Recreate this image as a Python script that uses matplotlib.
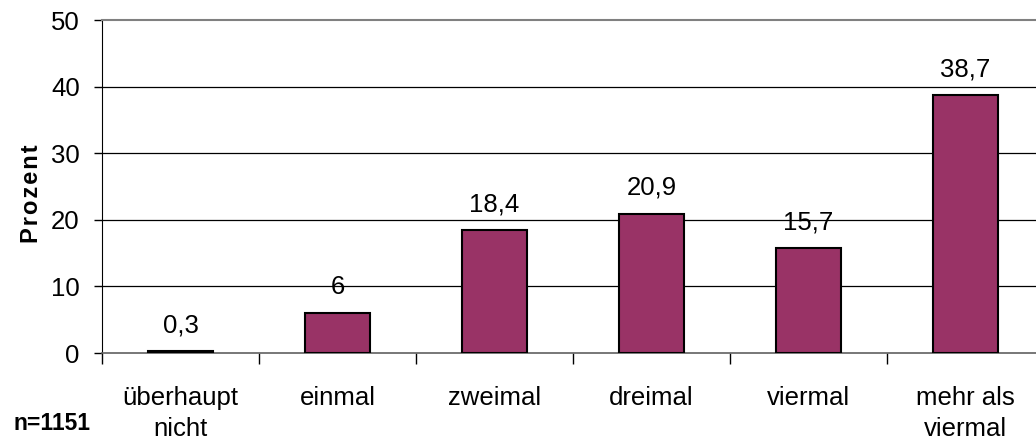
import matplotlib
matplotlib.use('Agg')
import matplotlib.pyplot as plt

# categories and values (Prozent)
categories = ['überhaupt\nnicht', 'einmal', 'zweimal', 'dreimal', 'viermal', 'mehr als\nviermal']
values = [0.3, 6, 18.4, 20.9, 15.7, 38.7]
value_labels = ['0,3', '6', '18,4', '20,9', '15,7', '38,7']
y_ticks = [0, 10, 20, 30, 40, 50]

plt.rcParams['font.family'] = ['Liberation Sans', 'DejaVu Sans']

fig = plt.figure(figsize=(10.36, 4.44), dpi=100)
# axes runs past the right edge like the original
ax = fig.add_axes([102 / 1036, (444 - 353) / 444, 942 / 1036, 333 / 444])

x = list(range(len(categories)))
bars = ax.bar(x, values, width=0.41, color='#993366', edgecolor='black', linewidth=1.5, zorder=3)

for xi, v, lab in zip(x, values, value_labels):
    ax.annotate(lab, (xi, v), xytext=(0, 10), textcoords='offset points',
                ha='center', va='bottom', fontsize=18.5)

ax.set_xlim(-0.5, 5.5)
ax.set_ylim(0, 50)
ax.set_yticks(y_ticks)
ax.set_yticklabels([str(t) for t in y_ticks], fontsize=18.5)
ax.set_xticks(x)
ax.set_xticklabels(categories, fontsize=18.5, linespacing=1.35)
ax.tick_params(axis='x', length=0, pad=24)
ax.set_xticks([i + 0.5 for i in range(-1, len(categories))], minor=True)
ax.tick_params(axis='x', which='minor', length=8, width=1, direction='out')
ax.tick_params(axis='y', length=6, width=1, direction='out', pad=10)

for t in y_ticks[1:-1]:
    ax.axhline(t, color='black', linewidth=0.9, zorder=1)

ax.spines['right'].set_visible(False)
ax.spines['top'].set_color('#808080')
ax.spines['top'].set_linewidth(1.5)
ax.spines['bottom'].set_color('#606060')
ax.spines['bottom'].set_linewidth(1.2)
ax.spines['left'].set_color('black')

# letter-spaced axis title
fig.text(32 / 1036, 1 - 194 / 444, '\u200a'.join('Prozent'), rotation=90, fontsize=17,
         fontweight='bold', ha='center', va='center')
fig.text(52 / 1036, 1 - 423 / 444, 'n=1151', fontsize=16.5, fontweight='bold',
         ha='center', va='center')

fig.savefig('out.png', dpi=100)
